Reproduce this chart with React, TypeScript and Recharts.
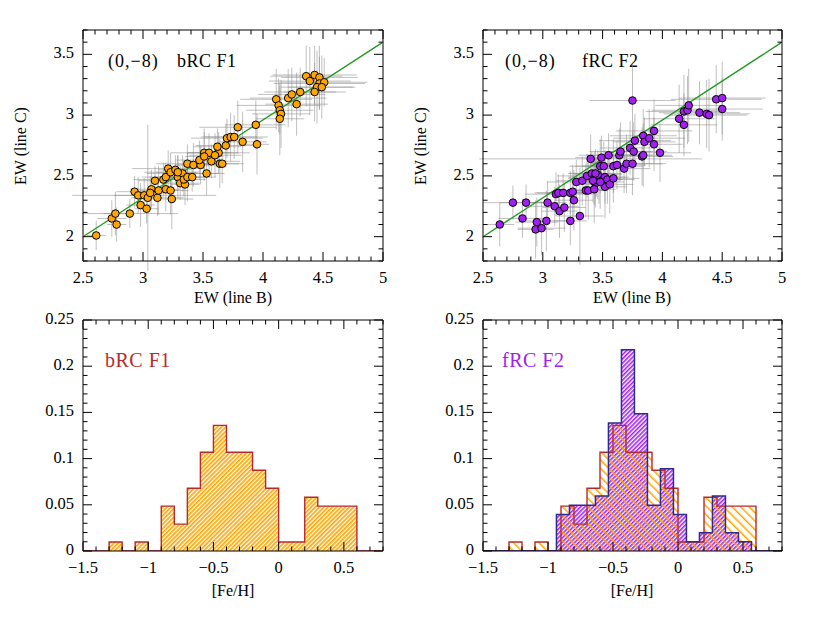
import React from 'react';
import { ScatterChart, Scatter, XAxis, YAxis, ErrorBar, AreaChart, Area } from 'recharts';

const FONT = '"Liberation Serif", "DejaVu Serif", serif';

// ---- bRC F1 : EW(line B) vs EW(line C) ----
const bX = [2.61, 2.74, 2.77, 2.78, 2.89, 2.93, 2.96, 2.98, 3.01, 3.03, 3.04, 3.07, 3.10, 3.12, 3.13, 3.17, 3.19, 3.19, 3.21, 3.23, 3.24, 3.23, 3.27, 3.29, 3.31, 3.33, 3.35, 3.34, 3.37, 3.37, 3.41, 3.42, 3.48, 3.51, 3.53, 3.57, 3.55, 3.63, 3.62, 3.64, 3.69, 3.70, 3.73, 3.76, 3.79, 3.83, 3.94, 3.95, 4.11, 4.13, 4.14, 4.15, 4.14, 4.21, 4.24, 4.28, 4.31, 4.36, 4.39, 4.43, 4.47, 4.47, 4.45, 4.43, 4.51, 4.49, 3.29, 3.47, 3.60, 3.66, 3.51, 3.06];
const bY = [2.01, 2.15, 2.19, 2.10, 2.19, 2.37, 2.34, 2.26, 2.34, 2.23, 2.32, 2.39, 2.46, 2.32, 2.38, 2.47, 2.39, 2.49, 2.56, 2.38, 2.31, 2.53, 2.55, 2.49, 2.44, 2.52, 2.43, 2.47, 2.60, 2.49, 2.49, 2.59, 2.59, 2.69, 2.52, 2.62, 2.69, 2.69, 2.74, 2.60, 2.75, 2.81, 2.82, 2.82, 2.90, 2.78, 2.92, 2.76, 3.13, 3.08, 3.04, 3.01, 2.97, 3.14, 3.17, 3.09, 3.19, 3.32, 3.28, 3.33, 3.31, 3.26, 3.23, 3.19, 3.27, 3.23, 2.53, 2.63, 2.67, 2.60, 2.66, 2.36];
const bEx = [0.08, 0.12, 0.10, 0.08, 0.40, 0.15, 0.20, 0.12, 0.60, 0.10, 0.12, 0.18, 0.14, 0.22, 0.16, 0.25, 0.12, 0.20, 0.30, 0.15, 0.18, 0.22, 0.14, 0.20, 0.16, 0.30, 0.12, 0.18, 0.26, 0.15, 0.20, 0.14, 0.22, 0.28, 0.15, 0.24, 0.18, 0.26, 0.20, 0.16, 0.25, 0.30, 0.22, 0.28, 0.32, 0.20, 0.25, 0.10, 0.30, 0.35, 0.28, 0.24, 0.20, 0.32, 0.28, 0.26, 0.30, 0.30, 0.34, 0.35, 0.32, 0.38, 0.30, 0.26, 0.36, 0.28, 0.18, 0.20, 0.22, 0.18, 0.16, 0.14];
const bEy = [0.12, 0.15, 0.18, 0.14, 0.12, 0.13, 0.15, 0.18, 0.14, 0.12, 0.60, 0.16, 0.12, 0.15, 0.20, 0.14, 0.18, 0.12, 0.15, 0.20, 0.25, 0.16, 0.12, 0.18, 0.14, 0.15, 0.17, 0.14, 0.16, 0.20, 0.12, 0.18, 0.16, 0.20, 0.18, 0.14, 0.16, 0.17, 0.15, 0.20, 0.18, 0.16, 0.20, 0.18, 0.22, 0.25, 0.20, 0.25, 0.25, 0.22, 0.20, 0.28, 0.30, 0.24, 0.22, 0.26, 0.20, 0.25, 0.28, 0.24, 0.26, 0.22, 0.30, 0.24, 0.20, 0.26, 0.14, 0.16, 0.18, 0.16, 0.20, 0.14];

// ---- fRC F2 ----
const fX = [2.64, 2.75, 2.83, 2.86, 2.95, 2.94, 2.99, 3.03, 3.04, 3.10, 3.11, 3.14, 3.13, 3.18, 3.17, 3.23, 3.23, 3.25, 3.26, 3.28, 3.31, 3.33, 3.36, 3.37, 3.40, 3.38, 3.41, 3.43, 3.44, 3.45, 3.43, 3.47, 3.48, 3.49, 3.51, 3.52, 3.52, 3.54, 3.55, 3.56, 3.59, 3.59, 3.62, 3.64, 3.65, 3.68, 3.70, 3.75, 3.73, 3.75, 3.76, 3.77, 3.83, 3.84, 3.84, 3.85, 3.89, 3.93, 3.93, 3.98, 4.14, 4.18, 4.18, 4.21, 4.22, 4.31, 4.37, 4.39, 4.45, 4.50, 4.50, 3.46, 3.42, 3.48, 3.44];
const fY = [2.10, 2.28, 2.15, 2.28, 2.12, 2.06, 2.07, 2.13, 2.28, 2.25, 2.35, 2.21, 2.36, 2.24, 2.36, 2.13, 2.36, 2.37, 2.30, 2.45, 2.17, 2.46, 2.38, 2.50, 2.64, 2.38, 2.52, 2.48, 2.44, 2.49, 2.39, 2.47, 2.58, 2.65, 2.58, 2.49, 2.41, 2.47, 2.67, 2.43, 2.48, 2.58, 2.59, 2.67, 2.70, 2.56, 2.60, 2.60, 2.73, 3.12, 2.70, 2.79, 2.66, 2.67, 2.83, 2.78, 2.81, 2.87, 2.76, 2.69, 2.97, 2.92, 3.03, 3.04, 3.08, 3.02, 3.01, 3.00, 3.13, 3.14, 3.05, 2.51, 2.46, 2.45, 2.52];
const fEx = [0.12, 0.25, 0.20, 0.22, 0.18, 0.15, 0.20, 0.22, 0.16, 0.20, 0.26, 0.15, 0.20, 0.18, 0.22, 0.14, 0.20, 0.18, 0.16, 0.24, 0.20, 0.22, 0.18, 0.25, 0.93, 0.16, 0.20, 0.22, 0.18, 0.24, 0.18, 0.20, 0.26, 0.22, 0.24, 0.20, 0.18, 0.22, 0.25, 0.20, 0.22, 0.26, 0.24, 0.28, 0.26, 0.22, 0.30, 0.28, 0.25, 0.36, 0.28, 0.30, 0.26, 0.24, 0.28, 0.26, 0.30, 0.32, 0.24, 0.26, 0.30, 0.28, 0.32, 0.30, 0.28, 0.34, 0.36, 0.32, 0.38, 0.36, 0.34, 0.20, 0.18, 0.20, 0.22];
const fEy = [0.18, 0.14, 0.16, 0.15, 0.20, 0.24, 0.22, 0.25, 0.18, 0.16, 0.18, 0.22, 0.15, 0.20, 0.16, 0.20, 0.18, 0.22, 0.25, 0.18, 0.40, 0.20, 0.22, 0.18, 0.20, 0.24, 0.18, 0.22, 0.20, 0.16, 0.28, 0.20, 0.22, 0.18, 0.20, 0.22, 0.26, 0.20, 0.18, 0.24, 0.20, 0.22, 0.20, 0.22, 0.24, 0.20, 0.24, 0.26, 0.22, 0.30, 0.24, 0.22, 0.24, 0.26, 0.22, 0.20, 0.24, 0.26, 0.22, 0.24, 0.28, 0.26, 0.30, 0.28, 0.30, 0.26, 0.28, 0.30, 0.28, 0.30, 0.26, 0.20, 0.18, 0.22, 0.20];

// fitted relation (line)
const fitX = [2.5, 5];
const fitY = [2.0, 3.6];

// ---- [Fe/H] histograms (bin width 0.1) ----
const BIN = 0.1;
const bHistStart = -1.3;
const bHistCounts = [1, 0, 1, 0, 5, 3, 7, 11, 14, 11, 11, 9, 7, 1, 1, 6, 5, 5, 5];
const bHistN = 103;
const fHistStart = -0.935;
const fHistCounts = [4, 5, 5, 6, 14, 22, 15, 5, 9, 4, 1, 2, 6, 2, 1];
const fHistN = 101;

// ---- axes ----
const ewXMajor = [2.5, 3, 3.5, 4, 4.5, 5];
const ewYMajor = [2, 2.5, 3, 3.5];
const feXMajor = [-1.5, -1, -0.5, 0, 0.5];
const frYMajor = [0, 0.05, 0.1, 0.15, 0.2, 0.25];
const ewXDomain: [number, number] = [2.5, 5];
const ewYDomain: [number, number] = [1.8, 3.7];
const feXDomain: [number, number] = [-1.5, 0.8];
const frYDomain: [number, number] = [0, 0.25];

const rnd = (v: number) => Math.round(v * 10000) / 10000;
const steps = (a: number, b: number, s: number) => {
  const out: number[] = [];
  const n = Math.round((b - a) / s);
  for (let i = 0; i <= n; i++) out.push(rnd(a + i * s));
  return out;
};
const ewXTicks = steps(2.5, 5, 0.1);
const ewYTicks = steps(1.8, 3.7, 0.1);
const feXTicks = steps(-1.5, 0.8, 0.1);
const frYTicks = steps(0, 0.25, 0.01);

const pts = (xs: number[], ys: number[], ex: number[], ey: number[]) =>
  xs.map((x, i) => ({ x, y: ys[i], ex: ex[i], ey: ey[i] }));
const bData = pts(bX, bY, bEx, bEy);
const fData = pts(fX, fY, fEx, fEy);
const fitData = fitX.map((x, i) => ({ x, y: fitY[i] }));

const stepVal = (x: number, start: number, counts: number[], n: number) => {
  const i = Math.floor((x - start) / BIN + 1e-6);
  return i >= 0 && i < counts.length ? counts[i] / n : 0;
};
const edges = (start: number, counts: number[]) => counts.map((_, i) => rnd(start + i * BIN)).concat([rnd(start + counts.length * BIN)]);
const histXs = Array.from(new Set([feXDomain[0], feXDomain[1], ...edges(bHistStart, bHistCounts), ...edges(fHistStart, fHistCounts)])).sort((a, b) => a - b);
const histData = histXs.map((x) => ({
  x,
  b: x >= feXDomain[1] ? 0 : stepVal(x, bHistStart, bHistCounts, bHistN),
  f: x >= feXDomain[1] ? 0 : stepVal(x, fHistStart, fHistCounts, fHistN),
}));

const fmt = (v: number) => String(v).replace('-', '\u2212');

type Side = 'bottom' | 'top' | 'left' | 'right';
const makeTick = (side: Side, majors: number[], labels: boolean) => (props: any) => {
  const { x, y, payload } = props;
  const v = payload.value as number;
  const isMaj = majors.some((m) => Math.abs(m - v) < 1e-6);
  const L = isMaj ? 9 : 4.5;
  let x2 = x, y2 = y;
  if (side === 'bottom') y2 = y - L;
  if (side === 'top') y2 = y + L;
  if (side === 'left') x2 = x + L;
  if (side === 'right') x2 = x - L;
  let label: any = null;
  if (labels && isMaj) {
    if (side === 'bottom')
      label = <text x={x} y={y + 22} textAnchor="middle" fontFamily={FONT} fontSize={16.5} fill="#000">{fmt(v)}</text>;
    if (side === 'left')
      label = <text x={x - 9} y={y + 4} textAnchor="end" fontFamily={FONT} fontSize={16.5} fill="#000">{fmt(v)}</text>;
  }
  return (
    <g>
      <line x1={x} y1={y} x2={x2} y2={y2} stroke="#000" strokeWidth={1} />
      {label}
    </g>
  );
};

const frameAxes = (
  xDomain: [number, number], xTicks: number[], xMaj: number[],
  yDomain: [number, number], yTicks: number[], yMaj: number[],
) => [
  <XAxis key="xb" xAxisId="b" orientation="bottom" type="number" dataKey="x" domain={xDomain} ticks={xTicks} interval={0}
    allowDataOverflow height={30} tickSize={0} tickMargin={0} tickLine={false}
    axisLine={{ stroke: '#000', strokeWidth: 1 }} tick={makeTick('bottom', xMaj, true)} />,
  <XAxis key="xt" xAxisId="t" orientation="top" type="number" dataKey="x" domain={xDomain} ticks={xTicks} interval={0}
    allowDataOverflow height={5} tickSize={0} tickMargin={0} tickLine={false}
    axisLine={{ stroke: '#000', strokeWidth: 1 }} tick={makeTick('top', xMaj, false)} />,
  <YAxis key="yl" yAxisId="l" orientation="left" type="number" domain={yDomain} ticks={yTicks} interval={0}
    allowDataOverflow width={40} tickSize={0} tickMargin={0} tickLine={false}
    axisLine={{ stroke: '#000', strokeWidth: 1 }} tick={makeTick('left', yMaj, true)} />,
  <YAxis key="yr" yAxisId="r" orientation="right" type="number" domain={yDomain} ticks={yTicks} interval={0}
    allowDataOverflow width={5} tickSize={0} tickMargin={0} tickLine={false}
    axisLine={{ stroke: '#000', strokeWidth: 1 }} tick={makeTick('right', yMaj, false)} />,
];

const emptyShape = () => <g />;
const dotShape = (fill: string) => (p: any) => (
  <circle cx={p.cx} cy={p.cy} r={3.8} fill={fill} stroke="#000" strokeWidth={1} />
);

const txt = { fontFamily: FONT, fill: '#000' } as const;

function EwPanel(props: { left: number; width: number; margin: any; data: any[]; fill: string; tag: string; tagX: number; coordX: number; yLabelX: number; xLabelX: number }) {
  const { left, width, margin, data, fill, tag, tagX, coordX, yLabelX, xLabelX } = props;
  return (
    <div style={{ position: 'absolute', left, top: 0 }}>
      <ScatterChart width={width} height={308} margin={margin}>
        {frameAxes(ewXDomain, ewXTicks, ewXMajor, ewYDomain, ewYTicks, ewYMajor)}
        <Scatter xAxisId="b" yAxisId="l" data={data} dataKey="y" shape={emptyShape} isAnimationActive={false} legendType="none">
          <ErrorBar dataKey="ex" direction="x" width={0} stroke="#8c8c8c" strokeOpacity={0.55} strokeWidth={1} />
          <ErrorBar dataKey="ey" direction="y" width={0} stroke="#8c8c8c" strokeOpacity={0.55} strokeWidth={1} />
        </Scatter>
        <Scatter xAxisId="b" yAxisId="l" data={fitData} dataKey="y" shape={emptyShape} line={{ stroke: '#1f9a1f', strokeWidth: 1.3 }} isAnimationActive={false} legendType="none" />
        <Scatter xAxisId="b" yAxisId="l" data={data} dataKey="y" shape={dotShape(fill)} isAnimationActive={false} legendType="none" />
        <text x={coordX} y={67} {...txt} fontSize={18} letterSpacing={1}>(0,{'\u2212'}8)</text>
        <text x={tagX} y={67} {...txt} fontSize={18} letterSpacing={0.5}>{tag}</text>
        <text x={xLabelX} y={303} {...txt} fontSize={16} textAnchor="middle">EW (line B)</text>
        <text x={yLabelX} y={146} {...txt} fontSize={16} textAnchor="middle" transform={`rotate(-90 ${yLabelX} 146)`}>EW (line C)</text>
      </ScatterChart>
    </div>
  );
}

function HatchDefs() {
  return (
    <defs>
      <pattern id="hatchOrangeDense" patternUnits="userSpaceOnUse" width={3} height={3} patternTransform="rotate(45)">
        <rect x={0} y={0} width={1.7} height={3} fill="#ffa500" />
      </pattern>
      <pattern id="hatchOrangeWide" patternUnits="userSpaceOnUse" width={6} height={6} patternTransform="rotate(-45)">
        <rect x={0} y={0} width={1.5} height={6} fill="#ffa500" />
      </pattern>
      <pattern id="hatchPurple" patternUnits="userSpaceOnUse" width={3} height={3} patternTransform="rotate(45)">
        <rect x={0} y={0} width={1.6} height={3} fill="#a020f0" />
      </pattern>
    </defs>
  );
}

const RED = '#b82a2a';
const NAVY = '#2f2a8c';

function HistPanel(props: { left: number; width: number; margin: any; both: boolean; xLabelX: number; tagX: number }) {
  const { left, width, margin, both, xLabelX, tagX } = props;
  return (
    <div style={{ position: 'absolute', left, top: 308 }}>
      <AreaChart width={width} height={313} margin={margin} data={histData}>
        <HatchDefs />
        {frameAxes(feXDomain, feXTicks, feXMajor, frYDomain, frYTicks, frYMajor)}
        {both && (
          <Area xAxisId="b" yAxisId="l" type="stepAfter" dataKey="f" stroke="none" fill="url(#hatchPurple)" fillOpacity={1}
            dot={false} activeDot={false} isAnimationActive={false} legendType="none" />
        )}
        <Area xAxisId="b" yAxisId="l" type="stepAfter" dataKey="b" stroke="none"
          fill={both ? 'url(#hatchOrangeWide)' : 'url(#hatchOrangeDense)'} fillOpacity={1}
          dot={false} activeDot={false} isAnimationActive={false} legendType="none" />
        <Area xAxisId="b" yAxisId="l" type="stepAfter" dataKey="b" stroke={RED} strokeWidth={1.4} fill="none"
          dot={false} activeDot={false} isAnimationActive={false} legendType="none" />
        {both && (
          <Area xAxisId="b" yAxisId="l" type="stepAfter" dataKey="f" stroke={NAVY} strokeWidth={1.5} fill="none"
            dot={false} activeDot={false} isAnimationActive={false} legendType="none" />
        )}
        <text x={tagX} y={59} fontFamily={FONT} fontSize={20} fill={both ? '#a020f0' : RED} letterSpacing={0.5}>{both ? 'fRC F2' : 'bRC F1'}</text>
        <text x={xLabelX} y={288} {...txt} fontSize={16} textAnchor="middle">[Fe/H]</text>
      </AreaChart>
    </div>
  );
}

export default function App() {
  return (
    <div style={{ position: 'absolute', left: 0, top: 0, width: 830, height: 621, background: '#fff', overflow: 'hidden' }}>
      <EwPanel left={0} width={415} margin={{ top: 25, right: 27, bottom: 17, left: 43 }} data={bData} fill="#ffa500"
        tag="bRC F1" coordX={108} tagX={177} yLabelX={26} xLabelX={233} />
      <EwPanel left={405} width={425} margin={{ top: 25, right: 43, bottom: 17, left: 38 }} data={fData} fill="#a020f0"
        tag="fRC F2" coordX={100} tagX={177} yLabelX={21} xLabelX={227} />
      <HistPanel left={0} width={415} margin={{ top: 7, right: 27, bottom: 40, left: 43 }} both={false} xLabelX={233} tagX={105} />
      <HistPanel left={405} width={425} margin={{ top: 7, right: 43, bottom: 40, left: 38 }} both={true} xLabelX={227} tagX={97} />
    </div>
  );
}
